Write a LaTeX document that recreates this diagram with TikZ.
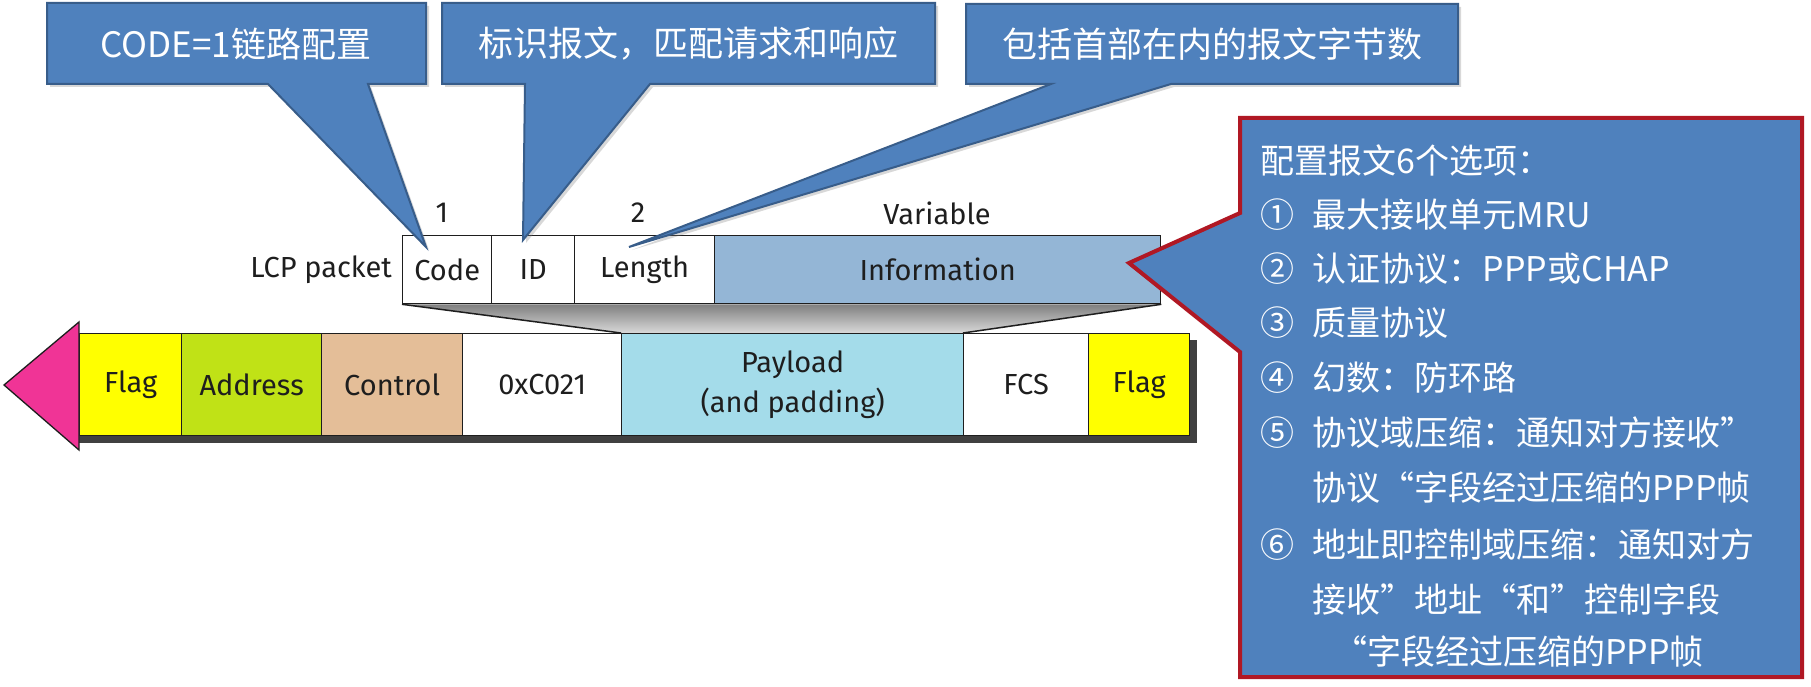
\documentclass[tikz,border=0pt]{standalone}
\usepackage{fontspec}
\setsansfont{Fira Sans}
\newfontfamily\cjk{Noto Sans CJK SC}
\usetikzlibrary{shadows}
\definecolor{callblue}{RGB}{79,129,189}
\definecolor{callborder}{RGB}{56,93,138}
\definecolor{redborder}{RGB}{176,24,36}
\definecolor{flagy}{RGB}{255,255,0}
\definecolor{addrg}{RGB}{192,226,22}
\definecolor{ctrlt}{RGB}{228,190,152}
\definecolor{payb}{RGB}{164,220,234}
\definecolor{infob}{RGB}{148,182,214}
\definecolor{arrowp}{RGB}{240,52,150}
\definecolor{txt}{RGB}{30,30,30}
\pgfdeclarelayer{bg}
\pgfsetlayers{bg,main}
\begin{document}
\begin{tikzpicture}[x=1pt,y=-1pt,
  fld/.style={draw=txt, line width=1.3pt, anchor=north west, inner sep=0pt, align=center,
    font=\sffamily\fontsize{29}{40}\selectfont, text=txt},
  lbl/.style={font=\sffamily\fontsize{29}{34}\selectfont, text=txt, inner sep=0pt},
  callout/.style={fill=callblue, draw=callborder, line width=2pt, line join=miter,
    drop shadow={opacity=0.3, shadow xshift=3pt, shadow yshift=-3pt}},
  calltext/.style={font=\cjk\fontsize{35}{40}\selectfont, text=white, inner sep=0pt},
  opttext/.style={font=\cjk\fontsize{34}{40}\selectfont, text=white, inner sep=0pt, anchor=west}]
\useasboundingbox (0,0) rectangle (1811,687);

% ---------- LCP packet ----------
\node[fld, minimum width=89pt, minimum height=68pt] (code) at (402,235) {Code};
\node[fld, minimum width=83pt, minimum height=68pt] (id) at (491,235) {ID};
\node[fld, minimum width=140pt, minimum height=68pt] (len) at (574,235) {Length};
\node[fld, fill=infob, minimum width=446pt, minimum height=68pt] (info) at (714,235) {Information};
\node[lbl, anchor=east] (lcp) at (392,270) {LCP packet};
\node[lbl] (n1) at (442,213) {1};
\node[lbl] (n2) at (638,213) {2};
\node[lbl] (var) at (937,213) {Variable};

% ---------- PPP frame ----------
\fill[black!75] (79,435) rectangle (1197,443);
\fill[black!75] (1189,340) rectangle (1197,443);
\node[fld, fill=flagy, minimum width=102pt, minimum height=102pt] (flag1) at (79,333) {Flag};
\node[fld, fill=addrg, minimum width=140pt, minimum height=102pt] (addr) at (181,333) {Address};
\node[fld, fill=ctrlt, minimum width=141pt, minimum height=102pt] (ctrl) at (321,333) {Control};
\node[fld, fill=white, minimum width=159pt, minimum height=102pt] (proto) at (462,333) {0xC021};
\node[fld, fill=payb, minimum width=342pt, minimum height=102pt] (pay) at (621,333) {Payload\\(and padding)};
\node[fld, fill=white, minimum width=125pt, minimum height=102pt] (fcs) at (963,333) {FCS};
\node[fld, fill=flagy, minimum width=101pt, minimum height=102pt] (flag2) at (1088,333) {Flag};
\draw[fill=arrowp, draw=txt, line width=1.3pt, line join=miter] (79,322) -- (4,385) -- (79,450) -- cycle;

% background and expansion trapezoid
\begin{pgfonlayer}{bg}
\fill[white] (0,0) rectangle (1811,687);
\shade[top color=black!50, middle color=white, bottom color=black!15] (code.south west) -- (info.south east) -- (fcs.north west) -- (pay.north west) -- cycle;
\end{pgfonlayer}
\draw[txt, line width=1.5pt] (code.south west) -- (pay.north west);
\draw[txt, line width=1.5pt] (info.south east) -- (fcs.north west);

% ---------- callouts ----------
\coordinate (t1) at (426,247);
\coordinate (t2) at (523,240);
\coordinate (t3) at (629,247);
\draw[callout] (47,3) -- (426,3) -- (426,84) -- (368,84) -- (t1) -- (268,84) -- (47,84) -- cycle;
\node[calltext] (c1) at (236,44) {CODE=1链路配置};
\draw[callout] (442,3) -- (935,3) -- (935,84) -- (650,84) -- (t2) -- (525,84) -- (442,84) -- cycle;
\node[calltext] (c2) at (688,44) {标识报文，匹配请求和响应};
\draw[callout] (966,4) -- (1458,4) -- (1458,84) -- (1171,84) -- (t3) -- (1051,84) -- (966,84) -- cycle;
\node[calltext] (c3) at (1212,44) {包括首部在内的报文字节数};

% ---------- options box ----------
\coordinate (t4) at (1129,263);
\draw[fill=callblue, draw=redborder, line width=4pt, line join=miter]
  (1240,118) -- (1802,118) -- (1802,677) -- (1240,677) -- (1240,352) -- (t4) -- (1240,213) -- cycle;
\node[opttext] (o0) at (1260,160) {配置报文6个选项：};
\node[opttext] (o1) at (1260,215) {①\hspace{0.55em}最大接收单元MRU};
\node[opttext] (o2) at (1260,269) {②\hspace{0.55em}认证协议：PPP或CHAP};
\node[opttext] (o3) at (1260,323) {③\hspace{0.55em}质量协议};
\node[opttext] (o4) at (1260,378) {④\hspace{0.55em}幻数：防环路};
\node[opttext] (o5) at (1260,433) {⑤\hspace{0.55em}协议域压缩：通知对方接收”};
\node[opttext] (o5b) at (1312,488) {协议“字段经过压缩的PPP帧};
\node[opttext] (o6) at (1260,545) {⑥\hspace{0.55em}地址即控制域压缩：通知对方};
\node[opttext] (o6b) at (1312,600) {接收”地址“和”控制字段};
\node[opttext] (o6c) at (1333,652) {“字段经过压缩的PPP帧};
\end{tikzpicture}
\end{document}
